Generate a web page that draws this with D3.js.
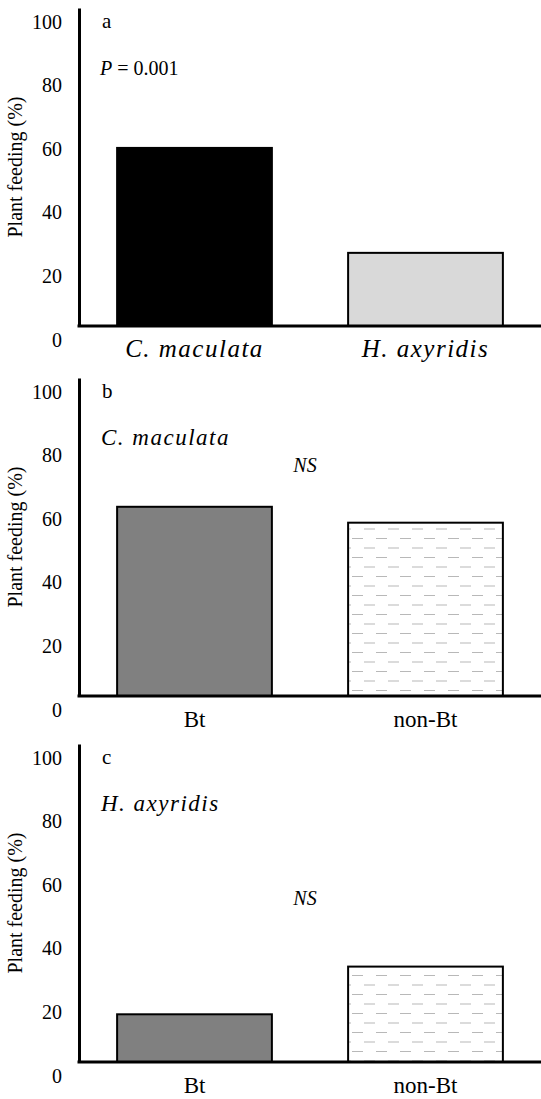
<!DOCTYPE html>
<html>
<head>
<meta charset="utf-8">
<script src="https://cdn.jsdelivr.net/npm/d3@7"></script>
<style>
  body { margin: 0; background: #fff; }
  svg text { font-family: "Times New Roman", Times, "Liberation Serif", "DejaVu Serif", serif; fill: #000; }
</style>
</head>
<body>
<div id="chart"></div>
<script>
var width = 541;
var height = 1099;

// data
var speciesCats = ["C. maculata", "H. axyridis"];
var speciesValues = [56, 23];
var cropCats = ["Bt", "non-Bt"];
var maculataValues = [59.5, 54.5];
var axyridisValues = [15, 30];
var yTicks = [0, 20, 40, 60, 80, 100];

var panels = [
  { letter: "a", cats: speciesCats, values: speciesValues, fills: ["#000", "#d9d9d9"],
    note: "P = 0.001", catItalic: true, ns: null },
  { letter: "b", cats: cropCats, values: maculataValues, fills: ["#808080", "url(#dash)"],
    note: "C. maculata", catItalic: false, ns: 94 },
  { letter: "c", cats: cropCats, values: axyridisValues, fills: ["#808080", "url(#dash)"],
    note: "H. axyridis", catItalic: false, ns: 161 }
];

var panelTop = [8, 378, 744];
var plotH = 318;
var axisX = 79;
var serif = '"Times New Roman", Times, "Liberation Serif", "DejaVu Serif", serif';

var svg = d3.select("#chart")
            .append("svg")
            .attr("width", width)
            .attr("height", height);

// dashed fill used for the non-Bt bars
var pat = svg.append("defs").append("pattern")
    .attr("id", "dash")
    .attr("patternUnits", "userSpaceOnUse")
    .attr("width", 24)
    .attr("height", 19)
    .attr("x", 4)
    .attr("y", 2);
pat.append("rect").attr("width", 24).attr("height", 19).attr("fill", "#fff");
pat.append("line").attr("x1", 12).attr("x2", 23).attr("y1", 4.5).attr("y2", 4.5)
    .attr("stroke", "#b8b8b8").attr("stroke-width", 1);
pat.append("line").attr("x1", 0).attr("x2", 11).attr("y1", 14).attr("y2", 14)
    .attr("stroke", "#b8b8b8").attr("stroke-width", 1);

var x = d3.scaleBand()
          .range([axisX, width])
          .paddingInner(0.33)
          .paddingOuter(0.165);

panels.forEach(function(p, i) {
    var top = panelTop[i];
    var y = d3.scaleLinear().domain([0, 100]).range([top + plotH, top]);
    x.domain(p.cats);

    var g = svg.append("g").attr("font-family", serif);

    // bars
    g.selectAll(".bar")
     .data(p.values)
     .join("rect")
     .attr("class", "bar")
     .attr("x", function(d, j) { return x(p.cats[j]); })
     .attr("width", x.bandwidth())
     .attr("y", function(d) { return y(d); })
     .attr("height", function(d) { return y(0) - y(d); })
     .attr("fill", function(d, j) { return p.fills[j]; })
     .attr("stroke", "#000")
     .attr("stroke-width", 2);

    // y axis
    var ya = g.append("g")
              .attr("transform", "translate(" + axisX + ",0)")
              .call(d3.axisLeft(y).tickValues(yTicks).tickSize(0).tickPadding(17));
    ya.attr("font-family", serif);
    ya.select(".domain").attr("stroke", "#000").attr("stroke-width", 3);
    ya.selectAll("text")
      .attr("font-size", 20)
      .attr("dy", "1.0em");

    // x axis
    var xa = g.append("g")
              .attr("transform", "translate(0," + y(0) + ")")
              .call(d3.axisBottom(x).tickSize(0).tickSizeOuter(0));
    xa.attr("font-family", serif);
    xa.select(".domain").attr("stroke", "#000").attr("stroke-width", 3)
      .attr("d", "M" + (axisX - 1.5) + ",0H" + width);
    xa.selectAll("text")
      .attr("font-size", p.catItalic ? 25 : 23)
      .attr("font-style", p.catItalic ? "italic" : "normal")
      .attr("letter-spacing", p.catItalic ? 1.5 : 0)
      .attr("y", 31)
      .attr("dy", 0);

    // y title
    g.append("text")
     .attr("transform", "translate(22," + (top + plotH / 2) + ") rotate(-90)")
     .attr("text-anchor", "middle")
     .attr("font-size", 20)
     .text("Plant feeding (%)");

    // panel letter
    g.append("text")
     .attr("x", 102)
     .attr("y", top + 20)
     .attr("font-size", 21)
     .text(p.letter);

    // note
    if (i === 0) {
        var t = g.append("text")
                 .attr("x", 100)
                 .attr("y", top + 67)
                 .attr("font-size", 20);
        t.append("tspan").attr("font-style", "italic").text("P");
        t.append("tspan").text(" = 0.001");
    } else {
        g.append("text")
         .attr("x", 101)
         .attr("y", top + 67)
         .attr("font-size", 23)
         .attr("font-style", "italic")
         .attr("letter-spacing", 1.5)
         .text(p.note);
    }

    if (p.ns) {
        g.append("text")
         .attr("x", 305)
         .attr("y", top + p.ns)
         .attr("text-anchor", "middle")
         .attr("font-size", 20)
         .attr("font-style", "italic")
         .text("NS");
    }
});
</script>
</body>
</html>
